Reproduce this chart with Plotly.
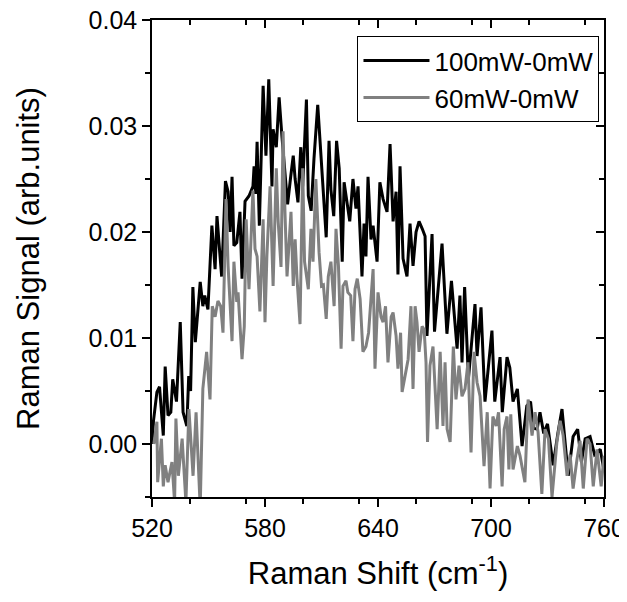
import plotly.graph_objects as go

# 100mW - 0mW difference spectrum
x_100 = [520, 520.8, 522.6, 524, 526, 527, 528.5, 530, 531, 533, 535, 536.5, 538.5, 539.5,
         540.5, 541.7, 543, 545.6, 547, 548, 549.7, 551.8, 553.5, 554.5, 556, 557, 559, 560.4,
         561.5, 562.5, 563.5, 565, 566.7, 567.8, 569.4, 571.5, 573.6, 574.2, 575, 575.8, 577,
         579, 580.5, 582, 583.7, 584.3, 586, 587.5, 589, 590.6, 592, 593.5, 595, 596, 597.5,
         599, 600, 602, 603, 604.5, 606, 608, 609.6, 611, 612.5, 614, 615, 616.5, 618, 619.4,
         621, 622, 623.6, 625, 626.7, 628.3, 629.4, 631.5, 632.6, 633.6, 634.7, 636.3, 637.4,
         639.5, 641, 642.7, 644.8, 646.4, 648, 649.6, 650.6, 651.7, 653.3, 655.4, 657, 658.6,
         660.2, 661.8, 663.5, 665, 666, 668.7, 670, 672, 674, 676.6, 679, 682, 683.5, 684.6,
         686, 688, 691.5, 692.6, 694.7, 696.8, 700.5, 702, 704.8, 706, 708.5, 710, 711.7, 714,
         716.5, 719, 721, 722.5, 724.5, 726, 728, 730, 733, 735.5, 737.7, 741, 743.6, 746, 748,
         750, 752.6, 755, 758, 760]
y_100 = [0.0000, 0.0022, 0.0049, 0.0054, 0.0008, 0.0073, 0.0027, 0.0030, 0.0061, 0.0040, 0.0115,
         0.0030, 0.0017, 0.0064, 0.0050, 0.0148, 0.0096, 0.0153, 0.0130, 0.0140, 0.0127, 0.0206,
         0.0165, 0.0215, 0.0180, 0.0158, 0.0248, 0.0238, 0.0200, 0.0252, 0.0187, 0.0190, 0.0219,
         0.0156, 0.0229, 0.0234, 0.0243, 0.0262, 0.0236, 0.0285, 0.0206, 0.0338, 0.0272, 0.0344,
         0.0243, 0.0297, 0.0280, 0.0327, 0.0290, 0.0253, 0.0226, 0.0250, 0.0272, 0.0250, 0.0228,
         0.0280, 0.0243, 0.0325, 0.0234, 0.0220, 0.0269, 0.0320, 0.0274, 0.0240, 0.0195, 0.0286,
         0.0240, 0.0215, 0.0286, 0.0260, 0.0172, 0.0247, 0.0225, 0.0210, 0.0250, 0.0222, 0.0243,
         0.0158, 0.0208, 0.0177, 0.0252, 0.0193, 0.0206, 0.0172, 0.0247, 0.0231, 0.0219, 0.0283,
         0.0210, 0.0238, 0.0160, 0.0262, 0.0175, 0.0158, 0.0208, 0.0168, 0.0200, 0.0210, 0.0203,
         0.0196, 0.0102, 0.0198, 0.0106, 0.0150, 0.0189, 0.0104, 0.0154, 0.0090, 0.0140, 0.0077,
         0.0148, 0.0061, 0.0132, 0.0083, 0.0129, 0.0040, 0.0107, 0.0040, 0.0082, 0.0030, 0.0082,
         0.0072, 0.0040, 0.0052, -0.0002, 0.0036, 0.0040, 0.0015, 0.0014, 0.0030, 0.0010, 0.0019,
         -0.0020, 0.0010, 0.0033, -0.0030, 0.0007, 0.0014, -0.0017, 0.0005, 0.0007, -0.0010,
         -0.0005, -0.0025]

# 60mW - 0mW difference spectrum
x_60 = [521, 522.6, 523, 525, 526, 527, 528.5, 530.6, 532, 532.7, 534, 536, 538, 539.6, 541.8,
        543.4, 545.6, 547, 549, 550.8, 552, 553.5, 555, 556.5, 557.7, 559.3, 560.4, 561.4, 562.5,
        563.5, 565, 565.7, 567.8, 569, 570, 571.5, 573.6, 574.7, 575.8, 577.3, 579, 580, 581,
        582.7, 584.3, 586, 587, 588.5, 589.6, 590.6, 591.7, 593.8, 595, 596, 597, 598.6, 600,
        601, 603, 604.4, 605.5, 607, 608.7, 610, 611, 612.5, 613.6, 615, 616.7, 617.7, 619,
        620.4, 621.4, 623, 624, 625.5, 626.7, 627.8, 629, 630.5, 632, 633.6, 635, 637.4, 638.4,
        640, 641.6, 642.7, 644, 645.3, 647, 648, 649.6, 650.6, 652, 652.8, 654.4, 656, 657.5,
        658.6, 659.7, 660.7, 661.8, 663.4, 664.5, 665.5, 666.3, 667.6, 669.2, 671.4, 673, 674.5,
        675.6, 676.7, 678.3, 680, 681.4, 683, 684.6, 686.2, 687.8, 689.4, 691, 692.6, 694.2,
        696.3, 698, 699.5, 701, 702.7, 704, 705.9, 707, 708.5, 709.5, 710.5, 711.7, 714, 715.4,
        718, 719.7, 721.8, 723.4, 725, 727, 728.7, 730.5, 732.4, 735, 736.7, 738.3, 740.4, 742,
        743.6, 745.7, 747.3, 749, 751, 752.6, 754.3, 756.3, 758.5, 760]
y_60 = [0.0000, 0.0021, -0.0036, 0.0005, -0.0040, -0.0020, -0.0036, -0.0017, -0.0055, 0.0024,
        -0.0030, 0.0005, -0.0055, 0.0033, -0.0030, 0.0030, -0.0060, 0.0052, 0.0087, 0.0042,
        0.0130, 0.0120, 0.0135, 0.0130, 0.0105, 0.0231, 0.0168, 0.0130, 0.0097, 0.0172, 0.0134,
        0.0143, 0.0080, 0.0111, 0.0212, 0.0146, 0.0239, 0.0184, 0.0177, 0.0125, 0.0212, 0.0115,
        0.0177, 0.0243, 0.0149, 0.0260, 0.0210, 0.0167, 0.0295, 0.0219, 0.0158, 0.0219, 0.0149,
        0.0193, 0.0156, 0.0113, 0.0260, 0.0172, 0.0146, 0.0203, 0.0172, 0.0250, 0.0181, 0.0149,
        0.0150, 0.0118, 0.0158, 0.0172, 0.0130, 0.0203, 0.0168, 0.0090, 0.0149, 0.0154, 0.0143,
        0.0140, 0.0097, 0.0146, 0.0156, 0.0137, 0.0087, 0.0092, 0.0105, 0.0165, 0.0071, 0.0143,
        0.0120, 0.0115, 0.0130, 0.0077, 0.0120, 0.0124, 0.0102, 0.0071, 0.0105, 0.0049, 0.0064,
        0.0080, 0.0130, 0.0052, 0.0130, 0.0115, 0.0087, 0.0111, 0.0108, 0.0077, 0.0002, 0.0074,
        0.0092, 0.0014, 0.0087, 0.0017, 0.0077, 0.0014, 0.0002, 0.0092, 0.0042, 0.0074, 0.0045,
        0.0052, 0.0077, -0.0008, 0.0087, 0.0058, 0.0045, -0.0021, 0.0030, -0.0042, 0.0026,
        0.0017, 0.0030, -0.0040, 0.0014, 0.0026, -0.0024, 0.0028, -0.0024, -0.0002, -0.0011,
        -0.0036, 0.0042, 0.0008, 0.0030, 0.0011, -0.0047, 0.0014, 0.0005, -0.0050, 0.0002,
        0.0022, 0.0008, -0.0030, -0.0010, -0.0042, -0.0014, 0.0003, -0.0042, 0.0005, 0.0000,
        -0.0040, -0.0005, -0.0040, -0.0011]

x_ticks = [520, 580, 640, 700, 760]
y_ticks = [0.00, 0.01, 0.02, 0.03, 0.04]

FONT = "Liberation Sans, Arial, sans-serif"
X_RANGE = [520, 760]
Y_RANGE = [-0.005, 0.04]
TICK_SIZE = 25
TITLE_SIZE = 31
# the page body keeps its default 8px margin, so the figure is sized to fit inside it
FIG_W, FIG_H = 619, 586

fig = go.Figure()
fig.add_trace(go.Scatter(x=x_100, y=y_100, mode="lines", name="100mW-0mW",
                         line=dict(color="black", width=3)))
fig.add_trace(go.Scatter(x=x_60, y=y_60, mode="lines", name="60mW-0mW",
                         line=dict(color="#808080", width=3)))
# dummy trace so the top/right frame axes are drawn
fig.add_trace(go.Scatter(x=[None], y=[None], xaxis="x2", yaxis="y2",
                         showlegend=False, hoverinfo="skip"))

axis_common = dict(showgrid=False, zeroline=False, showline=True, linecolor="black",
                   linewidth=1.5, tickcolor="black", tickwidth=1.5, automargin=False)

fig.update_layout(
    width=FIG_W,
    height=FIG_H,
    margin=dict(l=144, r=23, t=12, b=97),
    paper_bgcolor="white",
    plot_bgcolor="white",
    font=dict(family=FONT, color="black", size=TICK_SIZE),
    xaxis=dict(range=X_RANGE, tickvals=x_ticks, ticks="outside", ticklen=8,
               ticklabeloverflow="allow",
               minor=dict(ticks="outside", ticklen=5, dtick=30, tickcolor="black", tickwidth=1.5),
               title=dict(text="Raman Shift (cm<sup>-1</sup>)", font=dict(size=TITLE_SIZE), standoff=22),
               tickfont=dict(size=TICK_SIZE), **axis_common),
    yaxis=dict(range=Y_RANGE, tickvals=y_ticks, tickformat=".2f", ticks="outside", ticklen=8,
               ticklabeloverflow="allow",
               minor=dict(ticks="outside", ticklen=5, dtick=0.005, tick0=0, tickcolor="black", tickwidth=1.5),
               title=dict(text="Raman Signal (arb.units)", font=dict(size=TITLE_SIZE), standoff=40),
               tickfont=dict(size=TICK_SIZE), **axis_common),
    xaxis2=dict(range=X_RANGE, overlaying="x", side="top", tickvals=x_ticks, ticks="inside",
                ticklen=8, showticklabels=False,
                minor=dict(ticks="inside", ticklen=5, dtick=30, tickcolor="black", tickwidth=1.5),
                **axis_common),
    yaxis2=dict(range=Y_RANGE, overlaying="y", side="right", tickvals=y_ticks, ticks="inside",
                ticklen=8, showticklabels=False,
                minor=dict(ticks="inside", ticklen=5, dtick=0.005, tick0=0, tickcolor="black", tickwidth=1.5),
                **axis_common),
    legend=dict(x=0.99, y=0.966, xanchor="right", yanchor="top", bgcolor="white",
                bordercolor="black", borderwidth=1, font=dict(size=26), tracegroupgap=0,
                itemwidth=66),
    showlegend=True,
)

fig.write_html("out.html")
